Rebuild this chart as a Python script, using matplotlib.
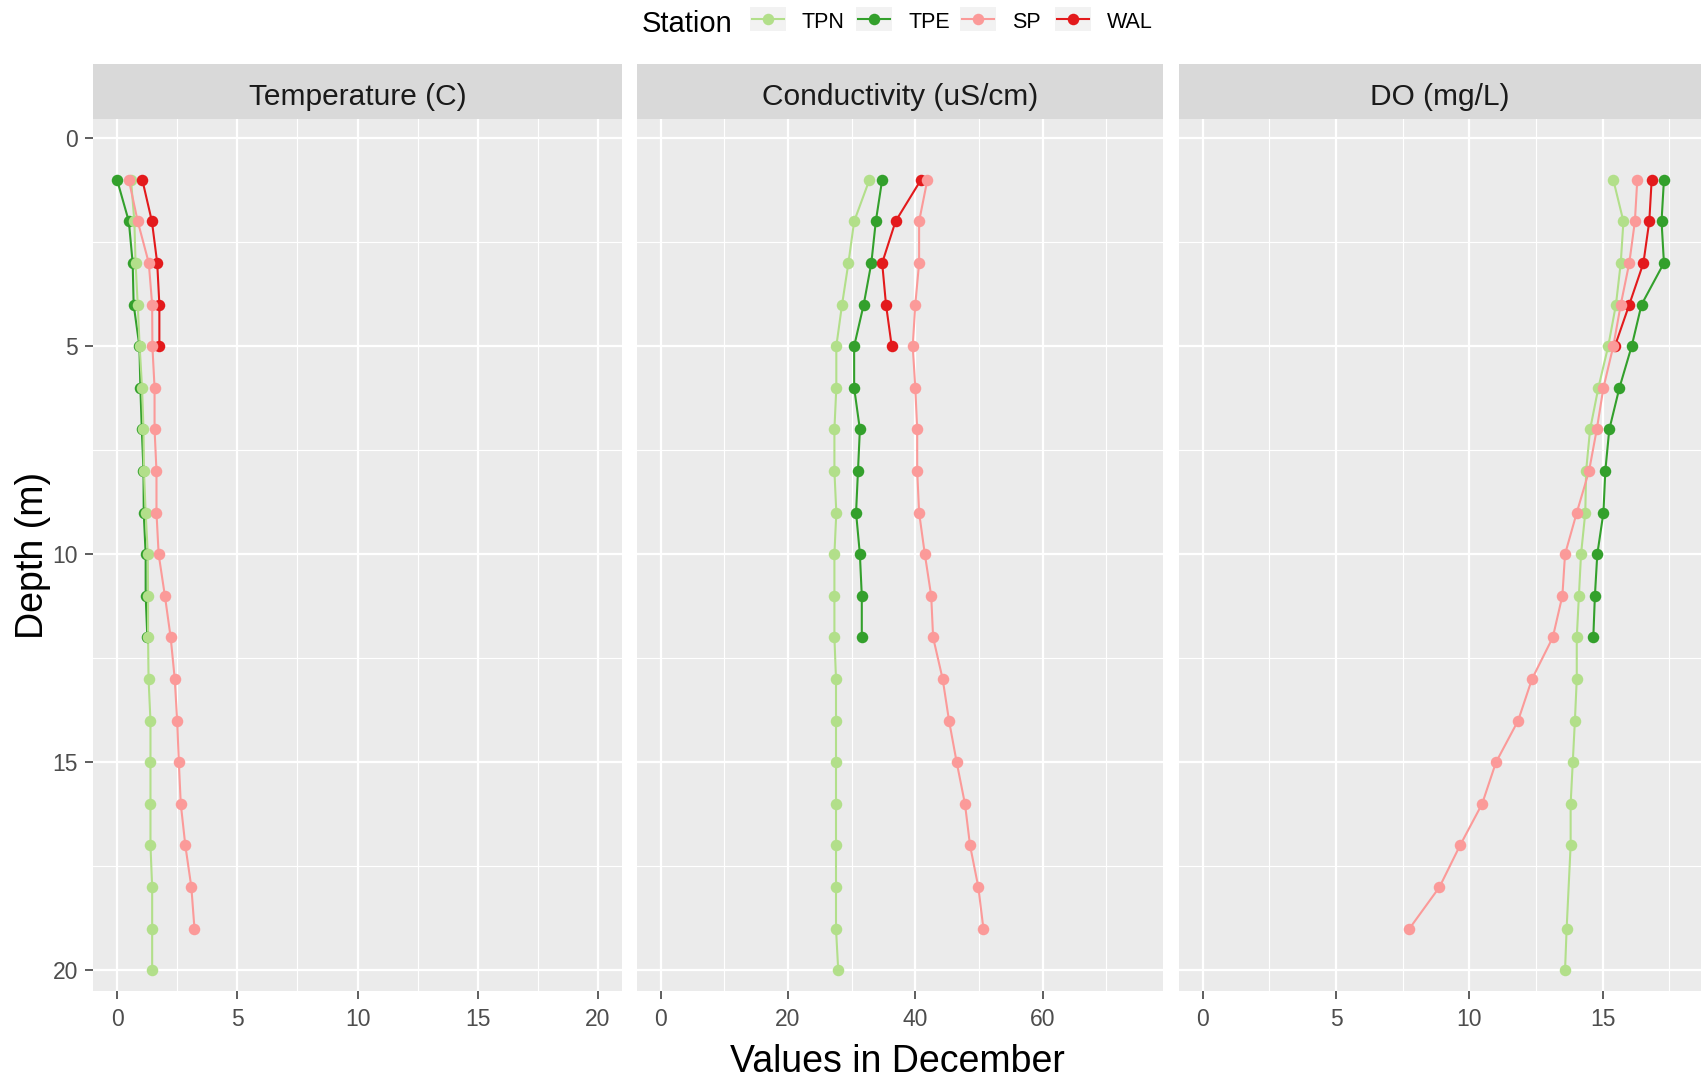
import numpy as np
import matplotlib
matplotlib.use("Agg")
import matplotlib.pyplot as plt
from matplotlib.lines import Line2D
from matplotlib.patches import Rectangle

plt.rcParams['font.family'] = ['Liberation Sans', 'DejaVu Sans']

stations = ["TPN", "TPE", "SP", "WAL"]
colors = {"TPN": "#B2DF8A", "TPE": "#33A02C", "SP": "#FB9A99", "WAL": "#E31A1C"}
panels = ["Temperature (C)", "Conductivity (uS/cm)", "DO (mg/L)"]

depth = np.arange(1, 21)

# temperature
temp_tpn = [0.58, 0.72, 0.77, 0.86, 0.94, 1.04, 1.10, 1.12, 1.19, 1.28, 1.29, 1.29, 1.31, 1.39, 1.39, 1.39, 1.39, 1.46, 1.46, 1.46]
temp_tpe = [0.0, 0.49, 0.65, 0.69, 0.93, 0.97, 1.03, 1.10, 1.11, 1.19, 1.19, 1.26]
temp_sp = [0.49, 0.86, 1.32, 1.46, 1.47, 1.56, 1.56, 1.64, 1.64, 1.73, 1.99, 2.23, 2.40, 2.50, 2.57, 2.65, 2.84, 3.09, 3.22]
temp_wal = [1.05, 1.45, 1.67, 1.76, 1.76]

# conductivity
cond_tpn = [32.8, 30.4, 29.5, 28.5, 27.6, 27.6, 27.3, 27.3, 27.6, 27.3, 27.3, 27.3, 27.55, 27.55, 27.55, 27.55, 27.55, 27.55, 27.55, 27.9]
cond_tpe = [34.8, 33.8, 33.1, 31.9, 30.4, 30.4, 31.3, 31.0, 30.7, 31.3, 31.6, 31.6]
cond_sp = [41.9, 40.6, 40.6, 40.0, 39.6, 40.0, 40.3, 40.3, 40.6, 41.5, 42.5, 42.8, 44.3, 45.3, 46.5, 47.8, 48.6, 49.9, 50.7]
cond_wal = [40.9, 36.9, 34.8, 35.4, 36.3]

# dissolved oxygen (TPN has no reading at 18 m)
do_tpn = [15.4, 15.78, 15.68, 15.5, 15.21, 14.84, 14.53, 14.38, 14.35, 14.19, 14.11, 14.03, 14.03, 13.96, 13.88, 13.8, 13.8, np.nan, 13.65, 13.59]
do_tpe = [17.3, 17.21, 17.3, 16.46, 16.09, 15.63, 15.25, 15.1, 15.03, 14.8, 14.71, 14.65]
do_sp = [16.3, 16.21, 16.0, 15.68, 15.4, 15.03, 14.78, 14.49, 14.03, 13.59, 13.49, 13.13, 12.35, 11.83, 11.0, 10.48, 9.65, 8.88, 7.75]
do_wal = [16.84, 16.75, 16.53, 16.0, 15.46]

data = [
    {"TPN": temp_tpn, "TPE": temp_tpe, "SP": temp_sp, "WAL": temp_wal},
    {"TPN": cond_tpn, "TPE": cond_tpe, "SP": cond_sp, "WAL": cond_wal},
    {"TPN": do_tpn, "TPE": do_tpe, "SP": do_sp, "WAL": do_wal},
]
xlims = [(-1.0, 21.0), (-3.7, 78.9), (-0.89, 18.69)]
xmajor = [[0, 5, 10, 15, 20], [0, 20, 40, 60], [0, 5, 10, 15]]
xminor = [[2.5, 7.5, 12.5, 17.5], [10, 30, 50, 70], [2.5, 7.5, 12.5, 17.5]]

W, H = 1701, 1080
fig = plt.figure(figsize=(W / 100, H / 100), dpi=100)

# panel pixel extents
px = [(93, 622), (637, 1163), (1179, 1701)]
ptop, pbot = 119, 990.7
stop = 64

draw_order = ["TPE", "TPN", "WAL", "SP"]
ms = 8.3
lw = 1.5

for i in range(3):
    x0, x1 = px[i]
    ax = fig.add_axes([x0 / W, 1 - pbot / H, (x1 - x0) / W, (pbot - ptop) / H])
    ax.set_facecolor("#EBEBEB")
    for s in ax.spines.values():
        s.set_visible(False)
    for st in draw_order:
        v = np.array(data[i][st], dtype=float)
        d = depth[:len(v)]
        ok = ~np.isnan(v)
        ax.plot(v[ok], d[ok], color=colors[st], lw=lw, zorder=3)
    for st in draw_order:
        v = np.array(data[i][st], dtype=float)
        d = depth[:len(v)]
        ok = ~np.isnan(v)
        ax.plot(v[ok], d[ok], 'o', color=colors[st], ms=ms, mew=0, zorder=4)
    ax.set_xlim(*xlims[i])
    ax.set_ylim(20.49, -0.46)
    ax.set_xticks(xmajor[i])
    ax.set_xticks(xminor[i], minor=True)
    ax.set_yticks([0, 5, 10, 15, 20])
    ax.set_yticks([2.5, 7.5, 12.5, 17.5], minor=True)
    ax.grid(which="major", color="white", lw=1.6)
    ax.grid(which="minor", color="white", lw=0.8)
    ax.set_axisbelow(True)
    ax.tick_params(which="major", length=5.8, width=1.1, color="#333333",
                   labelsize=16.5, labelcolor="#4D4D4D", pad=5)
    ax.tick_params(axis="x", which="major", pad=7)
    ax.tick_params(which="minor", length=0)
    if i > 0:
        ax.tick_params(axis="y", which="major", length=0, labelleft=False)

    sax = fig.add_axes([x0 / W, 1 - ptop / H, (x1 - x0) / W, (ptop - stop) / H])
    sax.set_facecolor("#D9D9D9")
    sax.set_xticks([])
    sax.set_yticks([])
    for s in sax.spines.values():
        s.set_visible(False)
    sax.text(0.5, 0.40, panels[i], ha="center", va="center", fontsize=21.5,
             color="#1A1A1A", transform=sax.transAxes)

fig.text(33 / W, 1 - 555 / H, "Depth (m)", rotation=90, ha="center", va="center", fontsize=27)
fig.text(897 / W, 1 - 1062 / H, "Values in December", ha="center", va="center", fontsize=27)

# legend drawn by hand along the top
fig.text(642 / W, 1 - 24 / H, "Station", ha="left", va="center", fontsize=21)
key_x = [750, 856, 960, 1055]
lab_x = [801, 908, 1012, 1107]
for k, st in enumerate(stations):
    kx = key_x[k]
    fig.patches.append(Rectangle((kx / W, 1 - 31 / H), 36 / W, 24 / H, transform=fig.transFigure,
                                 facecolor="#F2F2F2", edgecolor="none"))
    fig.lines.append(Line2D([(kx + 2) / W, (kx + 34) / W], [1 - 19 / H, 1 - 19 / H],
                            transform=fig.transFigure, color=colors[st], lw=lw))
    fig.lines.append(Line2D([(kx + 18) / W], [1 - 19 / H], transform=fig.transFigure,
                            marker='o', ms=ms, mew=0, color=colors[st]))
    fig.text(lab_x[k] / W, 1 - 22 / H, st, ha="left", va="center", fontsize=15.5)

fig.savefig("out.png", dpi=100)
